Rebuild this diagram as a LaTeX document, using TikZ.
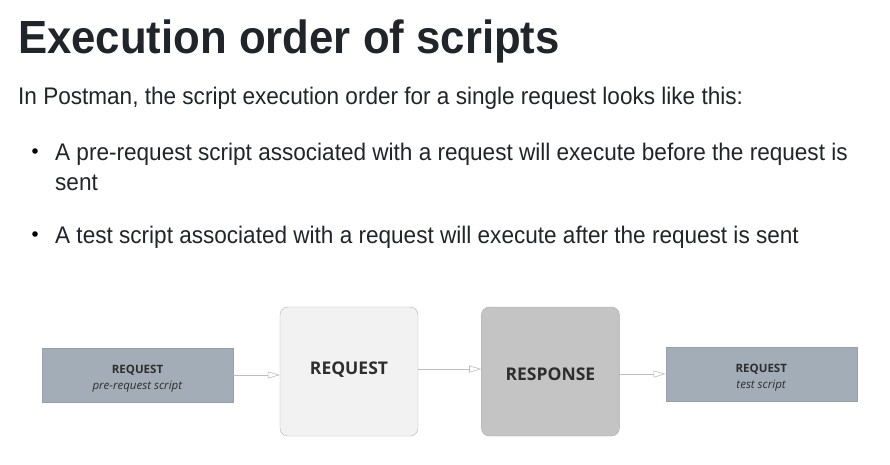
\documentclass[tikz,border=0pt]{standalone}
\usepackage{fontspec}
\setmainfont{Liberation Sans}[FakeStretch=0.94]
\newfontfamily\boxfont{Open Sans}
\usepackage{xcolor}
\usetikzlibrary{arrows.meta,positioning}
\definecolor{PageInk}{HTML}{212529}
\definecolor{BoxInk}{HTML}{2E2E2E}
\definecolor{ScriptFill}{HTML}{A2ADB7}
\definecolor{ScriptLine}{HTML}{9A9FA4}
\definecolor{ReqFill}{HTML}{F2F2F2}
\definecolor{ReqLine}{HTML}{B3B3B3}
\definecolor{RespFill}{HTML}{C4C4C4}
\definecolor{RespLine}{HTML}{A9A9A9}
\definecolor{FlowGray}{HTML}{BDBDBD}

\begin{document}
\begin{tikzpicture}[
    x=1pt,y=-1pt,
    text=PageInk,
    txt/.style={anchor=base west,inner sep=0pt,font=\fontsize{24}{30}\selectfont},
    scriptbox/.style={draw=ScriptLine,fill=ScriptFill,minimum width=191pt,minimum height=54pt,
      align=center,text=BoxInk,font=\boxfont\fontsize{11.5}{16}\selectfont},
    stagebox/.style={rounded corners=8pt,minimum width=138pt,minimum height=129pt,
      align=center,text=BoxInk,font=\boxfont\bfseries\fontsize{17.5}{20}\selectfont},
    arrow/.style={-{Triangle[open,length=12pt,width=7pt]},color=FlowGray,semithick}
  ]
    \useasboundingbox[fill=white] (0,0) rectangle (890,464);
    % text above the diagram
    \node[txt,font=\bfseries\fontsize{46.5}{56}\selectfont] (title) at (18,53) {Execution order of scripts};
    \node[txt] (intro) at (18,104) {In Postman, the script execution order for a single request looks like this:};
    \node[txt] (first) at (55,160) {A pre-request script associated with a request will execute before the request is};
    \node[txt] (firstend) at (55,190) {sent};
    \node[txt] (second) at (55,243) {A test script associated with a request will execute after the request is sent};
    \fill (35,151) circle (2.8pt);
    \fill (35,234) circle (2.8pt);
    % diagram
    \node[scriptbox] (pre) at (137.5,375) {\rule{0pt}{16pt}\textbf{REQUEST}\\\textit{pre-request script}};
    \node[stagebox,draw=ReqLine,fill=ReqFill] (req) at (349,371.5) {\raisebox{7pt}{REQUEST}};
    \node[stagebox,draw=RespLine,fill=RespFill,right=63pt of req] (resp) {\raisebox{-3pt}[\height][\depth]{RESPONSE}};
    \node[scriptbox,right=46pt of resp,yshift=-2.5pt] (test) {\rule{0pt}{16pt}\textbf{REQUEST}\\\textit{test script}};
    \draw[arrow] (pre.east) -- (pre.east -| req.west);
    \draw[arrow] (req.east) ++(0,2.5pt) coordinate (reqout) -- (reqout -| resp.west);
    \draw[arrow] (test.west -| resp.east) -- (test.west);
  \end{tikzpicture}
\end{document}
